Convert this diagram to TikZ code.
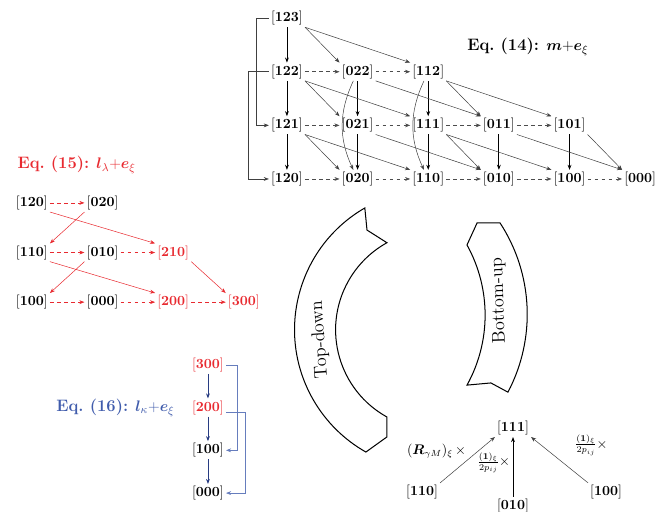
\documentclass[tikz,border=0pt]{standalone}
\usepackage{bm}
\usetikzlibrary{arrows.meta, positioning}
\definecolor{eqred}{RGB}{232,42,48}
\definecolor{eqblue}{RGB}{64,92,172}
\definecolor{eqnavy}{RGB}{40,60,130}
\newcommand{\bk}[1]{$[\mathbf{#1}]$}

\begin{document}
\begin{tikzpicture}[
  st/.style={inner sep=1.5pt, on grid, font=\fontsize{11}{13}\selectfont},
  title/.style={font=\fontsize{13}{15}\selectfont},
  tip/.style={-{Stealth[length=4pt, width=3pt]}},
  vline/.style={tip, semithick},
  sline/.style={tip, thin, black!75},
  dline/.style={tip, thin, black!70, dash pattern=on 3pt off 2.5pt},
  rline/.style={tip, thin, eqred},
  rdline/.style={rline, dash pattern=on 3pt off 2.5pt},
  bline/.style={tip, semithick, eqnavy},
  bbrk/.style={tip, thin, eqblue!80},
  band/.style={draw, line width=0.8pt, fill=white},
  elab/.style={text=black, font=\fontsize{10.5}{12}\selectfont}
]
\useasboundingbox (0,0) rectangle (18.19,-14.13);

% Eq. (14)
\node[title] (t14) at (14.57,-1.30) {\textbf{Eq.~(14):} $\bm{m}{+}\bm{e}_{\xi}$};
\node[st] (n123) at (7.92,-0.50) {\bk{123}};
\node[st, below=1.48cm of n123] (n122) {\bk{122}};
\node[st, below=1.48cm of n122] (n121) {\bk{121}};
\node[st, below=1.48cm of n121] (n120) {\bk{120}};
\node[st, right=1.95cm of n122] (n022) {\bk{022}};
\node[st, right=1.95cm of n022] (n112) {\bk{112}};
\node[st, right=1.95cm of n121] (n021) {\bk{021}};
\node[st, right=1.95cm of n021] (n111) {\bk{111}};
\node[st, right=1.95cm of n111] (n011) {\bk{011}};
\node[st, right=1.95cm of n011] (n101) {\bk{101}};
\node[st, right=1.95cm of n120] (n020) {\bk{020}};
\node[st, right=1.95cm of n020] (n110) {\bk{110}};
\node[st, right=1.95cm of n110] (n010) {\bk{010}};
\node[st, right=1.95cm of n010] (n100) {\bk{100}};
\node[st, right=1.95cm of n100] (n000) {\bk{000}};

\foreach \a/\b in {n123/n122, n122/n121, n121/n120, n022/n021, n021/n020,
                   n112/n111, n111/n110, n011/n010, n101/n100}
  \draw[vline] (\a) -- (\b);
\foreach \a/\b in {n122/n022, n022/n112, n121/n021, n021/n111, n111/n011,
                   n011/n101, n120/n020, n020/n110, n110/n010, n010/n100, n100/n000}
  \draw[dline] (\a) -- (\b);
\foreach \a/\b in {n123/n022, n123/n112, n122/n021, n122/n111, n022/n011,
                   n112/n011, n112/n101, n121/n020, n121/n110, n021/n010,
                   n111/n010, n111/n100, n011/n000, n101/n000}
  \draw[sline] (\a.south east) -- (\b.north west);
\draw[sline] (n022) to[bend right=25] (n020);
\draw[sline] (n112) to[bend right=25] (n110);
\draw[sline] (n123.west) -- ++(-0.36,0) |- (n121.west);
\draw[sline] (n122.west) -- ++(-0.58,0) |- (n120.west);

% Eq. (15)
\node[title, text=eqred, anchor=west] (t15) at (0.36,-4.55)
    {\textbf{Eq.~(15):} $\bm{l}_{\lambda}{+}\bm{e}_{\xi}$};
\node[st] (r120) at (0.88,-5.60) {\bk{120}};
\node[st, right=1.95cm of r120] (r020) {\bk{020}};
\node[st, below=1.37cm of r120] (r110) {\bk{110}};
\node[st, right=1.95cm of r110] (r010) {\bk{010}};
\node[st, right=1.95cm of r010, text=eqred] (r210) {\bk{210}};
\node[st, below=1.37cm of r110] (r100) {\bk{100}};
\node[st, right=1.95cm of r100] (r000) {\bk{000}};
\node[st, right=1.95cm of r000, text=eqred] (r200) {\bk{200}};
\node[st, right=1.95cm of r200, text=eqred] (r300) {\bk{300}};

\foreach \a/\b in {r120/r020, r110/r010, r010/r210, r100/r000, r000/r200, r200/r300}
  \draw[rdline] (\a) -- (\b);
\draw[rline] (r020.south west) -- (r110.north east);
\draw[rline] (r010.south west) -- (r100.north east);
\foreach \a/\b in {r120/r210, r110/r200, r210/r300}
  \draw[rline] (\a.south east) -- (\b.north west);

% Eq. (16)
\node[st, text=eqred] (b300) at (5.74,-10.07) {\bk{300}};
\node[st, below=1.18cm of b300, text=eqred] (b200) {\bk{200}};
\node[st, below=1.18cm of b200] (b100) {\bk{100}};
\node[st, below=1.18cm of b100] (b000) {\bk{000}};
\node[title, text=eqblue, left=0.3cm of b200.west, anchor=east] (t16)
    {\textbf{Eq.~(16):} $\bm{l}_{\kappa}{+}\bm{e}_{\xi}$};
\draw[bline] (b300) -- (b200);
\draw[bline] (b200) -- (b100);
\draw[bline] (b100) -- (b000);
\draw[bbrk] (b300.east) -- ++(0.3,0) |- (b100.east);
\draw[bbrk] ([yshift=-0.13cm]b200.east) -- ++(0.52,0) |- (b000.east);

% top-down / bottom-up
\draw[band] (10.07,-5.74) arc[start angle=120, end angle=240.5, radius=3.88]
  -- (10.68,-12.06) -- (10.68,-11.51)
  arc[start angle=241, end angle=119, radius=2.75] -- (10.13,-6.35) -- cycle;
\node[rotate=94, font=\Large] (tdown) at (8.83,-9.38) {Top-down};
\draw[band] (13.17,-6.15) -- (13.80,-6.15)
  arc[start angle=33.2, end angle=-27.8, radius=4.61]
  -- (13.55,-10.57) -- (12.89,-10.63)
  arc[start angle=-29, end angle=29, radius=3.99] -- cycle;
\node[rotate=92, font=\Large] (bup) at (13.77,-8.30) {Bottom-up};

% neighbours of [111]
\node[st] (g111) at (14.16,-11.81) {\bk{111}};
\node[st, below=2.16cm of g111] (g010) {\bk{010}};
\node[st, below left=1.77cm and 2.51cm of g111] (g110) {\bk{110}};
\node[st, below right=1.77cm and 2.57cm of g111] (g100) {\bk{100}};
\draw[sline] (g110.north east) -- node[elab, above left, inner sep=1pt]
    {$(\bm{R}_{\gamma M})_{\xi}\,\times$} (g111.south west);
\draw[vline] (g010) -- node[elab, left, pos=0.57, inner sep=2pt]
    {$\frac{(\mathbf{1})_{\xi}}{2p_{ij}}\times$} (g111);
\draw[sline] (g100.north west) -- node[elab, above right, xshift=0.3cm]
    {$\frac{(\mathbf{1})_{\xi}}{2p_{ij}}\times$} (g111.south east);
\end{tikzpicture}
\end{document}
